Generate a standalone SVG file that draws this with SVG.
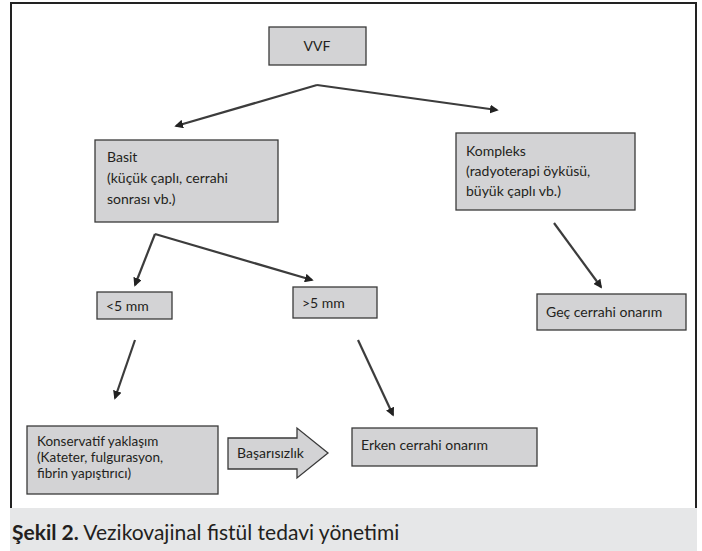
<svg xmlns="http://www.w3.org/2000/svg" width="702" height="551" viewBox="0 0 702 551">
<style>
.box{fill:#d3d3d5;stroke:#3a3a3a;stroke-width:1.3}
.t{font-family:Lato,"Noto Sans",sans-serif;font-size:14px;fill:#231f20}
.s{font-size:13.5px}
.c{fill:none;stroke:#3c3c3c;stroke-width:2.2;marker-end:url(#ah)}
.cap{font-family:Lato,"Noto Sans",sans-serif;font-size:21px;fill:#231f20}
</style>
<defs>
<marker id="ah" viewBox="0 0 10 10" refX="8" refY="5" markerWidth="4" markerHeight="4" orient="auto" markerUnits="strokeWidth">
<path d="M0,0 L10,5 L0,10 z" fill="#222"/>
</marker>
</defs>
<rect x="0" y="0" width="702" height="551" fill="#fff"/>
<path d="M11,508 V3 H696 V508" fill="none" stroke="#222" stroke-width="2"/>
<rect x="10" y="508" width="687" height="43" fill="#e6e7e8"/>
<text class="cap" x="12" y="540"><tspan font-weight="bold">Şekil 2.</tspan> Vezikovajinal fistül tedavi yönetimi</text>

<g id="connectors">
<path class="c" d="M317,85 L176,126"/>
<path class="c" d="M317,85 L497,110"/>
<path class="c" d="M155,234 L135,285"/>
<path class="c" d="M155,234 L312,280"/>
<path class="c" d="M554,223 L601,287"/>
<path class="c" d="M135,340 L115,398"/>
<path class="c" d="M358,340 L393,415"/>
</g>

<g id="vvf">
<rect class="box" x="269" y="27" width="97" height="38"/>
<text class="t" x="317" y="51" text-anchor="middle">VVF</text>
</g>
<g id="basit">
<rect class="box" x="95" y="140" width="183" height="82"/>
<text class="t" x="107" y="162">Basit</text>
<text class="t" x="107" y="183">(küçük çaplı, cerrahi</text>
<text class="t" x="107" y="204">sonrası vb.)</text>
</g>
<g id="kompleks">
<rect class="box" x="456" y="133" width="179" height="77"/>
<text class="t" x="466" y="156">Kompleks</text>
<text class="t" x="466" y="176">(radyoterapi öyküsü,</text>
<text class="t" x="466" y="196">büyük çaplı vb.)</text>
</g>
<g id="lt5">
<rect class="box" x="97" y="292" width="75" height="27"/>
<text class="t" x="106" y="311">&lt;5 mm</text>
</g>
<g id="gt5">
<rect class="box" x="293" y="287" width="84" height="31"/>
<text class="t" x="302" y="308">&gt;5 mm</text>
</g>
<g id="gec">
<rect class="box" x="537" y="294" width="149" height="36"/>
<text class="t" x="546" y="317">Geç cerrahi onarım</text>
</g>
<g id="konservatif">
<rect class="box" x="27" y="426" width="191" height="68"/>
<text class="t s" x="37" y="446">Konservatif yaklaşım</text>
<text class="t s" x="37" y="462">(Kateter, fulgurasyon,</text>
<text class="t s" x="37" y="478">fibrin yapıştırıcı)</text>
</g>
<g id="basarisizlik">
<path class="box" d="M228,438 H297 V428 L328,453 L297,478 V469 H228 Z"/>
<text class="t" x="237" y="458">Başarısızlık</text>
</g>
<g id="erken">
<rect class="box" x="352" y="428" width="185" height="38"/>
<text class="t" x="361" y="450">Erken cerrahi onarım</text>
</g>
</svg>
